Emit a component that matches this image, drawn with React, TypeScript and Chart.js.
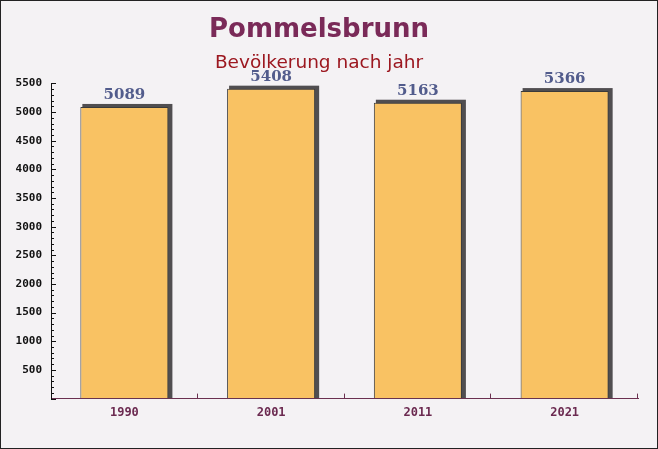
import React, { useEffect, useRef } from "react";
import { Chart, registerables } from "chart.js";

Chart.register(...registerables);

const years: string[] = ["1990", "2001", "2011", "2021"];
const population: number[] = [5089, 5408, 5163, 5366];
const yMax = 5500;
const yLabelStep = 500;
const yMinorStep = 100;
const titleText = "Pommelsbrunn";
const subtitleText = "Bevölkerung nach jahr";

const decorPlugin = {
  id: "decor",
  beforeDraw(chart: any) {
    const { ctx, width, height } = chart;
    ctx.save();
    ctx.fillStyle = "#f4f2f4";
    ctx.fillRect(0, 0, width, height);
    ctx.restore();
  },
  beforeDatasetsDraw(chart: any) {
    const { ctx } = chart;
    const meta = chart.getDatasetMeta(0);
    ctx.save();
    ctx.fillStyle = "#504e50";
    meta.data.forEach((bar: any) => {
      const w = bar.width;
      const left = bar.x - w / 2 + 2;
      const top = bar.y - 3;
      ctx.fillRect(left, top, w + 2, bar.base - top);
    });
    ctx.restore();
  },
  afterDatasetsDraw(chart: any) {
    const { ctx } = chart;
    const meta = chart.getDatasetMeta(0);
    ctx.save();
    ctx.font = "bold 15px 'DejaVu Serif'";
    ctx.fillStyle = "#525c8c";
    ctx.textAlign = "center";
    ctx.textBaseline = "bottom";
    meta.data.forEach((bar: any, i: number) => {
      ctx.fillText(String(population[i]), bar.x, bar.y - 4);
    });
    ctx.restore();
  },
  afterDraw(chart: any) {
    const { ctx, chartArea, scales, width, height } = chart;
    const y = scales.y;
    const x = scales.x;
    ctx.save();
    ctx.strokeStyle = "#111";
    ctx.lineWidth = 1;
    for (let v = 0; v <= yMax; v += yMinorStep) {
      const py = Math.round(y.getPixelForValue(v)) + 0.5;
      const len = v % yLabelStep === 0 ? 5 : 3;
      ctx.beginPath();
      ctx.moveTo(chartArea.left, py);
      ctx.lineTo(chartArea.left + len, py);
      ctx.stroke();
    }
    ctx.strokeStyle = "#6b3050";
    for (let i = 1; i <= years.length; i++) {
      let bx: number;
      if (i === years.length) bx = Math.round(chartArea.right);
      else bx = Math.round((x.getPixelForValue(i - 1) + x.getPixelForValue(i)) / 2);
      ctx.beginPath();
      ctx.moveTo(bx - 0.5, chartArea.bottom);
      ctx.lineTo(bx - 0.5, chartArea.bottom - 5);
      ctx.stroke();
    }
    ctx.strokeStyle = "#222";
    ctx.strokeRect(0.5, 0.5, width - 1, height - 1);
    ctx.restore();
  },
};

export default function App() {
  const ref = useRef<HTMLCanvasElement | null>(null);
  useEffect(() => {
    document.body.style.margin = "0";
    const canvas = ref.current!;
    const chart = new Chart(canvas, {
      type: "bar",
      data: {
        labels: years,
        datasets: [
          {
            data: population,
            backgroundColor: "#f9c263",
            borderColor: "#3a3a3a",
            borderWidth: 1,
            barPercentage: 0.6,
            categoryPercentage: 1,
          },
        ],
      },
      options: {
        responsive: false,
        animation: false,
        devicePixelRatio: 1,
        layout: { padding: { left: 0, right: 20, top: 0, bottom: 22 } },
        plugins: {
          legend: { display: false },
          tooltip: { enabled: false },
          title: {
            display: true,
            text: titleText,
            color: "#7a2a58",
            font: { family: "'DejaVu Sans'", size: 26, weight: "bold" },
            padding: { top: 15, bottom: 6 },
          },
          subtitle: {
            display: true,
            text: subtitleText,
            color: "#9c1820",
            font: { family: "'DejaVu Sans'", size: 18.5 },
            padding: { top: 0, bottom: 9 },
          },
        },
        scales: {
          x: {
            grid: { display: true, drawOnChartArea: false, drawTicks: false },
            border: { display: true, color: "#6b3050", width: 1 },
            ticks: {
              color: "#6b2a50",
              font: { family: "'DejaVu Sans Mono'", size: 12, weight: "bold" },
              padding: 7,
            },
          },
          y: {
            min: 0,
            max: yMax,
            grid: { display: true, drawOnChartArea: false, drawTicks: false },
            border: { display: true, color: "#111", width: 1 },
            ticks: {
              stepSize: yMinorStep,
              autoSkip: false,
              color: "#111",
              font: { family: "'DejaVu Sans Mono'", size: 11, weight: "bold" },
              padding: 9,
              callback: (v: any) => (Number(v) % yLabelStep === 0 && Number(v) > 0 ? String(v) : ""),
            },
            afterFit: (s: any) => {
              s.width = 51;
            },
          },
        },
      },
      plugins: [decorPlugin],
    });
    return () => chart.destroy();
  }, []);
  return <canvas ref={ref} width={658} height={449} style={{ display: "block" }} />;
}
